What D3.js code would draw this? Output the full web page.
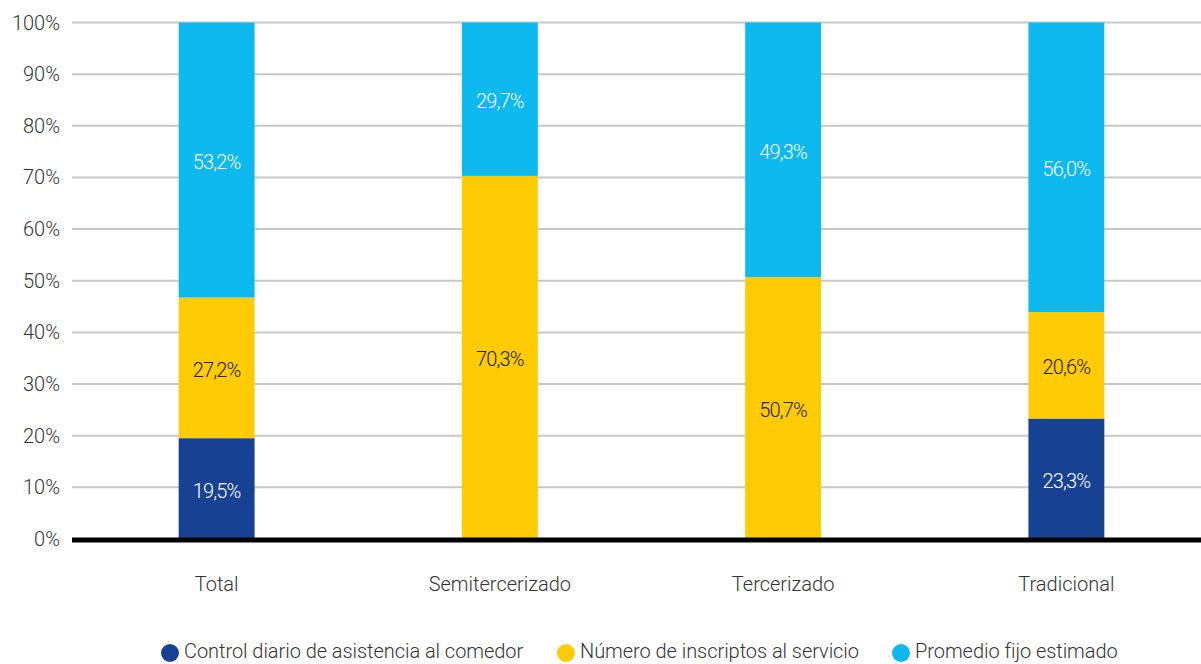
<!DOCTYPE html>
<html><head><meta charset="utf-8">
<script src="https://cdn.jsdelivr.net/npm/d3@7"></script>
<style>
body{margin:0;background:#fff;}
text{font-family:Roboto,"Noto Sans",sans-serif;font-weight:300;}
</style></head>
<body><svg id="c" width="1201" height="664"></svg>
<script>
const categories = ["Total","Semitercerizado","Tercerizado","Tradicional"];
const seriesNames = ["Control diario de asistencia al comedor","Número de inscriptos al servicio","Promedio fijo estimado"];
const control = [19.5, 0, 0, 23.3];
const inscriptos = [27.2, 70.3, 50.7, 20.6];
const promedio = [53.2, 29.7, 49.3, 56.0];
const yTicks = [0,10,20,30,40,50,60,70,80,90,100];
const colors = ["#174294","#FFCB05","#0DB9EE"];
const labelColors = ["#ffffff","#222222","#ffffff"];

const svg = d3.select("#c");
const x = d3.scaleBand().domain(categories).range([75,1208]).paddingInner(0.732).paddingOuter(0.366);
const y = d3.scaleLinear().domain([0,100]).range([539,22.5]);

// gridlines
svg.append("g").selectAll("line").data(yTicks.filter(d=>d>0)).join("line")
  .attr("x1",72).attr("x2",1201).attr("y1",d=>y(d)).attr("y2",d=>y(d))
  .attr("stroke","#c8c8c8").attr("stroke-width",2);

// y labels
svg.append("g").selectAll("text").data(yTicks).join("text")
  .attr("x",60).attr("y",d=>y(d)+7).attr("text-anchor","end")
  .attr("font-size",20).attr("fill","#333").text(d=>d+"%");

const series = [control, inscriptos, promedio];
const rows = categories.map((c,i)=>{
  const vals = series.map(s=>s[i]);
  const tot = d3.sum(vals);
  let acc = 0;
  return vals.map((v,k)=>{const y0=acc/tot*100; acc+=v; return {c, k, v, y0, y1: acc/tot*100};});
});

const g = svg.append("g");
rows.flat().filter(d=>d.v>0).forEach(d=>{
  g.append("rect").attr("x",x(d.c)).attr("width",x.bandwidth())
    .attr("y",y(d.y1)).attr("height",y(d.y0)-y(d.y1)).attr("fill",colors[d.k]);
  g.append("text").attr("x",x(d.c)+x.bandwidth()/2).attr("y",y((d.y0+d.y1)/2)+9)
    .attr("text-anchor","middle").attr("font-size",20).attr("letter-spacing",-0.8)
    .attr("fill",labelColors[d.k]).text(d.v.toFixed(1).replace(".",",")+"%");
});

// baseline
svg.append("line").attr("x1",72).attr("x2",1201).attr("y1",y(0)+1).attr("y2",y(0)+1)
  .attr("stroke","#000").attr("stroke-width",5);

// category labels
svg.append("g").selectAll("text").data(categories).join("text")
  .attr("x",d=>x(d)+x.bandwidth()/2).attr("y",591).attr("text-anchor","middle")
  .attr("font-size",20).attr("fill","#333").text(d=>d);

// legend
const legX = [170, 566, 901];
const lg = svg.append("g");
seriesNames.forEach((n,i)=>{
  lg.append("circle").attr("cx",legX[i]).attr("cy",653).attr("r",9).attr("fill",colors[i]);
  lg.append("text").attr("x",legX[i]+14).attr("y",658).attr("font-size",20)
    .attr("letter-spacing",-0.05).attr("fill","#333").text(n);
});
</script></body></html>
